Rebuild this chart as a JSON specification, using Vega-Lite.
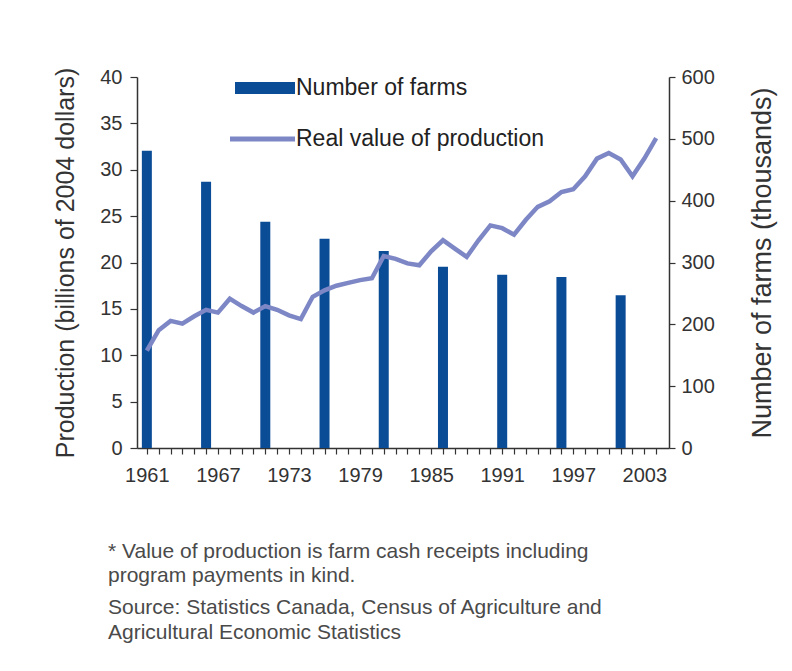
{
  "$schema": "https://vega.github.io/schema/vega-lite/v6.json",
  "autosize": "none",
  "width": 532,
  "height": 371,
  "padding": {"left": 137, "top": 77, "right": 123, "bottom": 223},
  "background": "white",
  "datasets": {
    "farms": [
      {"year": 1961, "farms": 480.9},
      {"year": 1966, "farms": 430.5},
      {"year": 1971, "farms": 366.1},
      {"year": 1976, "farms": 338.6},
      {"year": 1981, "farms": 318.4},
      {"year": 1986, "farms": 293.1},
      {"year": 1991, "farms": 280.0},
      {"year": 1996, "farms": 276.5},
      {"year": 2001, "farms": 246.9}
    ],
    "production": [
      {"year": 1961, "value": 10.5}, {"year": 1962, "value": 12.7}, {"year": 1963, "value": 13.7},
      {"year": 1964, "value": 13.4}, {"year": 1965, "value": 14.2}, {"year": 1966, "value": 14.9},
      {"year": 1967, "value": 14.6}, {"year": 1968, "value": 16.1}, {"year": 1969, "value": 15.3},
      {"year": 1970, "value": 14.6}, {"year": 1971, "value": 15.3}, {"year": 1972, "value": 14.9},
      {"year": 1973, "value": 14.3}, {"year": 1974, "value": 13.9}, {"year": 1975, "value": 16.3},
      {"year": 1976, "value": 17.0}, {"year": 1977, "value": 17.5}, {"year": 1978, "value": 17.8},
      {"year": 1979, "value": 18.1}, {"year": 1980, "value": 18.3}, {"year": 1981, "value": 20.7},
      {"year": 1982, "value": 20.4}, {"year": 1983, "value": 19.9}, {"year": 1984, "value": 19.7},
      {"year": 1985, "value": 21.2}, {"year": 1986, "value": 22.4}, {"year": 1987, "value": 21.5},
      {"year": 1988, "value": 20.6}, {"year": 1989, "value": 22.4}, {"year": 1990, "value": 24.0},
      {"year": 1991, "value": 23.7}, {"year": 1992, "value": 23.0}, {"year": 1993, "value": 24.6},
      {"year": 1994, "value": 26.0}, {"year": 1995, "value": 26.6}, {"year": 1996, "value": 27.6},
      {"year": 1997, "value": 27.9}, {"year": 1998, "value": 29.3}, {"year": 1999, "value": 31.2},
      {"year": 2000, "value": 31.8}, {"year": 2001, "value": 31.1}, {"year": 2002, "value": 29.3},
      {"year": 2003, "value": 31.2}, {"year": 2004, "value": 33.4}
    ]
  },
  "title": {
    "text": ["* Value of production is farm cash receipts including", "program payments in kind."],
    "subtitle": ["Source: Statistics Canada, Census of Agriculture and", "Agricultural Economic Statistics"],
    "orient": "bottom",
    "anchor": "start",
    "frame": "group",
    "dx": -29,
    "offset": 56,
    "font": "Liberation Sans",
    "fontSize": 21,
    "fontWeight": "normal",
    "color": "#4a4a4a",
    "lineHeight": 24,
    "subtitleFont": "Liberation Sans",
    "subtitleFontSize": 21,
    "subtitleColor": "#4a4a4a",
    "subtitleLineHeight": 25,
    "subtitlePadding": 11
  },
  "config": {
    "view": {"stroke": null},
    "font": "Liberation Sans",
    "axis": {
      "labelFont": "Liberation Sans",
      "labelFontSize": 20,
      "labelColor": "#333",
      "titleFont": "Liberation Sans",
      "titleFontSize": 25,
      "titleFontWeight": "normal",
      "titleColor": "#333",
      "domainColor": "#333",
      "domainWidth": 1.5,
      "tickColor": "#333",
      "tickWidth": 1.2,
      "grid": false
    },
    "legend": {
      "labelFont": "Liberation Sans",
      "labelFontSize": 23,
      "labelColor": "#222",
      "labelLimit": 0
    }
  },
  "encoding": {
    "x": {
      "field": "year",
      "type": "quantitative",
      "scale": {"domain": [1960.59, 2004.66], "nice": false, "zero": false},
      "axis": {
        "title": null,
        "values": [1961,1962,1963,1964,1965,1966,1967,1968,1969,1970,1971,1972,1973,1974,1975,1976,1977,1978,1979,1980,1981,1982,1983,1984,1985,1986,1987,1988,1989,1990,1991,1992,1993,1994,1995,1996,1997,1998,1999,2000,2001,2002,2003,2004],
        "labelExpr": "(datum.value - 1961) % 6 == 0 ? datum.value : ''",
        "labelOverlap": false,
        "labelFlush": false,
        "tickSize": 6,
        "labelPadding": 11,
        "labelDx": 7
      }
    }
  },
  "layer": [
    {
      "data": {"name": "farms"},
      "mark": {"type": "bar", "width": 10},
      "encoding": {
        "y": {
          "field": "farms",
          "type": "quantitative",
          "scale": {"domain": [0, 600], "nice": false},
          "axis": {
            "orient": "right",
            "title": "Number of farms (thousands)",
            "titleAngle": 270,
            "titleFontSize": 27,
            "values": [0, 100, 200, 300, 400, 500, 600],
            "tickSize": 6,
            "labelPadding": 6,
            "titlePadding": 62
          }
        },
        "color": {
          "datum": "Number of farms",
          "type": "nominal",
          "scale": {"domain": ["Number of farms", "Real value of production"], "range": ["#0b4c97", "#7d87c5"]},
          "legend": {
            "title": null,
            "orient": "none",
            "legendX": 103,
            "legendY": -14,
            "symbolSize": 2500,
            "rowPadding": 14,
            "labelOffset": 6,
            "encode": {
              "symbols": {
                "update": {
                  "fill": {"scale": "color", "field": "value"},
                  "stroke": {"value": "transparent"},
                  "strokeWidth": {"value": 0},
                  "shape": {"signal": "datum.value == 'Number of farms' ? 'M-1.2,-0.24H1.2V0.24H-1.2Z' : 'M-1.4,-0.1H1.2V0.1H-1.4Z'"}
                }
              }
            }
          }
        }
      }
    },
    {
      "data": {"name": "production"},
      "mark": {"type": "line", "strokeWidth": 4.5, "strokeJoin": "miter"},
      "encoding": {
        "y": {
          "field": "value",
          "type": "quantitative",
          "scale": {"domain": [0, 40], "nice": false},
          "axis": {
            "orient": "left",
            "title": "Production (billions of 2004 dollars)",
            "values": [0, 5, 10, 15, 20, 25, 30, 35, 40],
            "tickSize": 7,
            "labelPadding": 8,
            "titlePadding": 21
          }
        },
        "color": {"datum": "Real value of production", "type": "nominal"}
      }
    }
  ],
  "resolve": {"scale": {"y": "independent"}}
}
